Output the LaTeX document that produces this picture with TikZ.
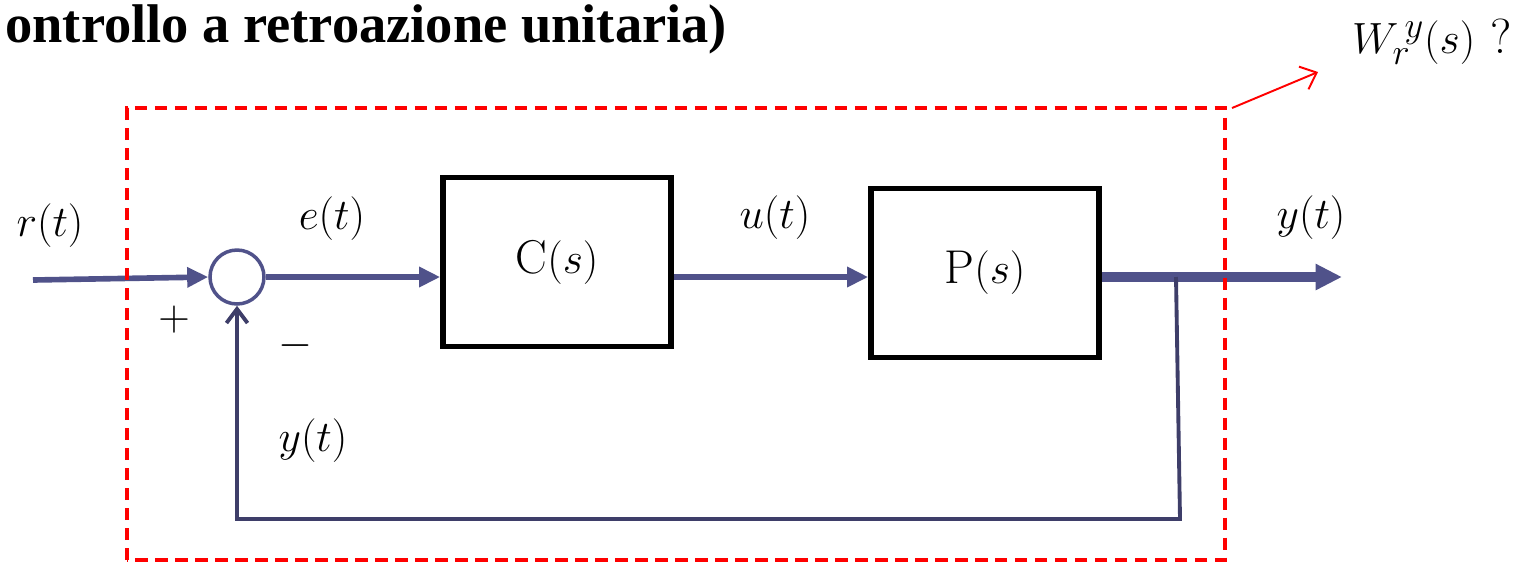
\documentclass[tikz,border=0pt]{standalone}
\usepackage{fontspec}
\usetikzlibrary{arrows.meta, positioning}
\newfontfamily\titlefont{Liberation Serif}
\definecolor{flowblue}{RGB}{80,82,138}
\definecolor{loopblue}{RGB}{62,62,105}
\tikzset{
	block/.style	= {draw, line width=3.2pt, minimum width=4.56cm, minimum height=3.38cm, font=\fontsize{27}{31}\selectfont},
	sig/.style		= {font=\fontsize{26}{30}\selectfont},
	flow/.style		= {draw=flowblue, line width=3.2pt, -{Triangle[length=12pt, width=11pt]}},
}

\begin{document}
\begin{tikzpicture}[x=0.02cm, y=-0.02cm]
	\useasboundingbox (0,0) rectangle (1537,566);

	% title (cut on the left)
	\node[anchor=base west, inner sep=0pt, font=\titlefont\bfseries\fontsize{31}{34}\selectfont] (title) at (5,42) {ontrollo a retroazione unitaria)};

	\node[circle, draw=flowblue, line width=2pt, minimum size=1.08cm] (sum)	at (237,277)	{};
	\node[block]	(C)	at (557,262)	{$\mathrm{C}(s)$};
	\node[block]	(P)	at (985,273)	{$\mathrm{P}(s)$};

	\coordinate (in)	at (33,280);
	\coordinate (tap)	at (1176,277);
	\coordinate (out)	at (1342,277);
	\coordinate (fb)	at (1180,519);

	% signals
	\node[sig]	(r)		at (50,226)		{$r(t)$};
	\node[sig]	(e)		at (332,219)	{$e(t)$};
	\node[sig]	(u)		at (775,218)	{$u(t)$};
	\node[sig]	(y)		at (1311,218)	{$y(t)$};
	\node[sig]	(yfb)	at (313,441)	{$y(t)$};
	\node[sig]	(plus)	at (174,320)	{$+$};
	\node[sig]	(minus)	at (295,346)	{$-$};

	\draw[flow] (in) -- (sum.west);
	\draw[flow] (sum.east) -- (sum.east -| C.west);
	\draw[flow] (C.east |- sum) -- (P.west |- sum);
	\draw[flow, line width=5.5pt, -{Triangle[length=15pt, width=14pt]}] (P.east |- sum) -- (out);
	\draw[loopblue, line width=2.2pt, -{Straight Barb[length=8pt, width=12pt]}] (tap) -- (fb) -| (sum.south);

	% closed loop
	\coordinate (boxSW)	at (127,560);
	\coordinate (boxNE)	at (1225,108);
	\draw[red, line width=2.2pt, dash pattern=on 0.25cm off 0.15cm] (boxSW) rectangle (boxNE);

	\node[sig, anchor=west, font=\fontsize{28}{32}\selectfont] (W) at (1346,42) {$W_r^{\,y}(s)$ ?};
	\draw[red, line width=1.1pt, -{Straight Barb[length=8pt, width=14pt]}] ([xshift=4pt]boxNE) -- (1318,72);
\end{tikzpicture}
\end{document}
